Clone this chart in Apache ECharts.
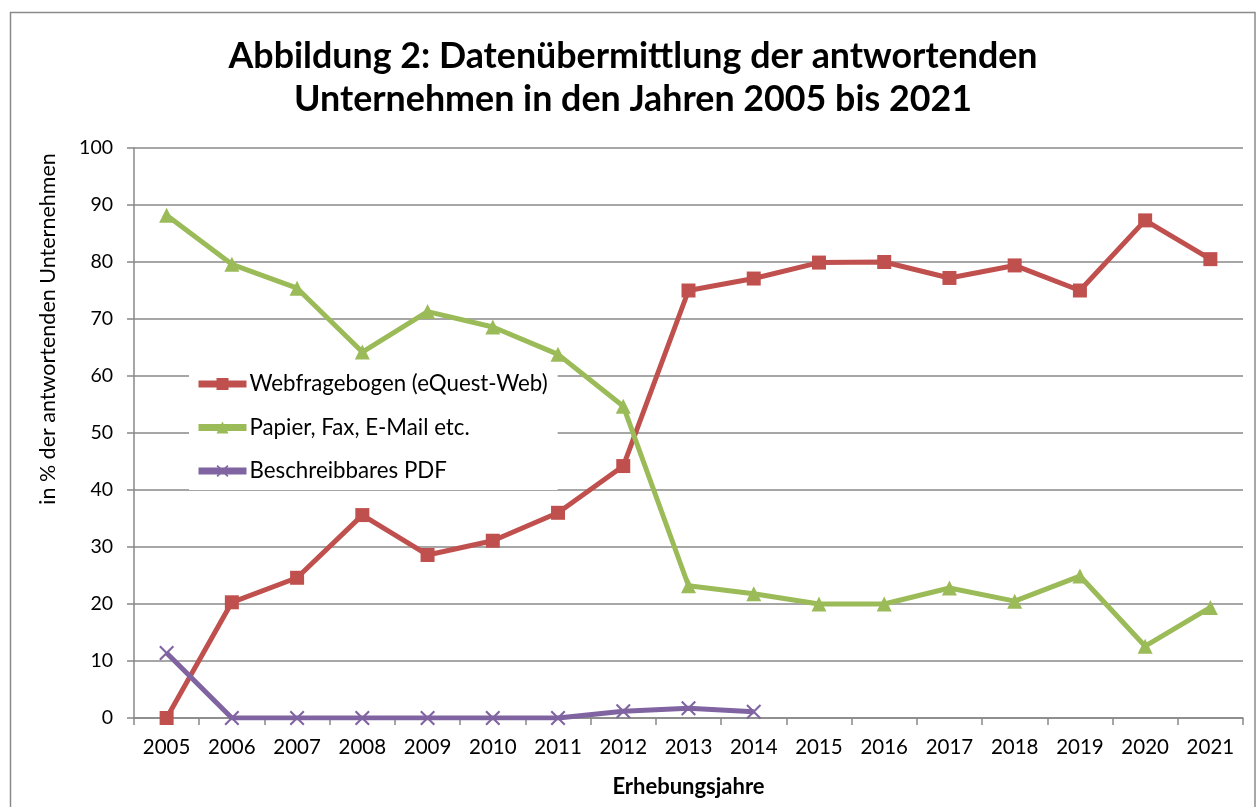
<!DOCTYPE html>
<html>
<head>
<meta charset="utf-8">
<script src="https://cdn.jsdelivr.net/npm/echarts@6/dist/echarts.min.js"></script>
<style>
html,body{margin:0;padding:0;background:#fff;}
#chart{width:1257px;height:807px;}
</style>
</head>
<body>
<div id="chart"></div>
<script>
const years = ['2005','2006','2007','2008','2009','2010','2011','2012','2013','2014','2015','2016','2017','2018','2019','2020','2021'];
const webValues = [0, 20.3, 24.6, 35.6, 28.6, 31.1, 36.0, 44.2, 75.0, 77.1, 79.9, 80.0, 77.2, 79.4, 75.0, 87.3, 80.5];
const paperValues = [88.2, 79.6, 75.4, 64.2, 71.3, 68.6, 63.8, 54.7, 23.2, 21.8, 20.0, 20.0, 22.8, 20.5, 24.9, 12.6, 19.4];
const pdfValues = [11.4, 0, 0, 0, 0, 0, 0, 1.2, 1.7, 1.1, null, null, null, null, null, null, null];
const seriesNames = ['Webfragebogen (eQuest-Web)', 'Papier, Fax, E-Mail etc.', 'Beschreibbares PDF'];
const titleText = 'Abbildung 2: Datenübermittlung der antwortenden\nUnternehmen in den Jahren 2005 bis 2021';
const xAxisName = 'Erhebungsjahre';
const yAxisName = 'in % der antwortenden Unternehmen';

const FONT = 'Lato';
const crossPath = 'path://M0,1 L1,0 L5,4 L9,0 L10,1 L6,5 L10,9 L9,10 L5,6 L1,10 L0,9 L4,5 Z';
const gridColor = '#888888';

const chart = echarts.init(document.getElementById('chart'), null, {renderer: 'canvas'});
chart.setOption({
  backgroundColor: '#ffffff',
  animation: false,
  textStyle: {fontFamily: FONT},
  title: {
    text: titleText,
    left: 628,
    textAlign: 'center',
    top: 30,
    textStyle: {fontFamily: FONT, fontSize: 35.8, fontWeight: 'bold', color: '#000', lineHeight: 43}
  },
  legend: {
    orient: 'vertical',
    left: 189,
    top: 369,
    itemWidth: 48,
    itemHeight: 15,
    itemGap: 21.5,
    padding: [4, 10, 8, 6],
    backgroundColor: '#ffffff',
    data: seriesNames,
    lineStyle: {width: 7},
    textStyle: {fontFamily: FONT, fontSize: 22.3, color: '#000', padding: [0, 0, 0, -2]}
  },
  grid: {left: 134, right: 14, top: 148, bottom: 89, containLabel: false},
  xAxis: {
    type: 'category',
    data: years,
    boundaryGap: true,
    name: xAxisName,
    nameLocation: 'middle',
    nameGap: 58,
    nameTextStyle: {fontFamily: FONT, fontSize: 22, fontWeight: 'bold', color: '#000'},
    axisLine: {lineStyle: {color: gridColor, width: 1.5}},
    axisTick: {show: true, length: 7, interval: 0, alignWithLabel: false, lineStyle: {color: gridColor, width: 1.5}},
    axisLabel: {fontFamily: FONT, fontSize: 20.5, color: '#000', margin: 19, interval: 0},
    splitLine: {show: false}
  },
  yAxis: {
    type: 'value',
    min: 0,
    max: 100,
    interval: 10,
    axisLine: {show: true, lineStyle: {color: gridColor, width: 1.5}},
    axisTick: {show: true, length: 7, lineStyle: {color: gridColor, width: 1.5}},
    axisLabel: {fontFamily: FONT, fontSize: 19.5, color: '#000', margin: 21},
    splitLine: {show: true, lineStyle: {color: gridColor, width: 1.5}}
  },
  graphic: [
    {
      type: 'rect',
      shape: {x: 10.5, y: 12.5, width: 1244.5, height: 820},
      style: {fill: 'none', stroke: '#8a8a8a', lineWidth: 1.5},
      silent: true, z: 0
    },
    {
      type: 'text',
      x: 48, y: 329,
      rotation: Math.PI / 2,
      style: {text: yAxisName, fontFamily: FONT, fontSize: 21.5, fill: '#000', textAlign: 'center', textVerticalAlign: 'middle'},
      silent: true
    }
  ],
  series: [
    {
      name: seriesNames[0], type: 'line', data: webValues,
      symbol: 'rect', symbolSize: 14,
      lineStyle: {color: '#C0504D', width: 5},
      itemStyle: {color: '#C0504D'}
    },
    {
      name: seriesNames[1], type: 'line', data: paperValues,
      symbol: 'triangle', symbolSize: 15,
      lineStyle: {color: '#9BBB59', width: 5},
      itemStyle: {color: '#9BBB59'}
    },
    {
      name: seriesNames[2], type: 'line', data: pdfValues,
      symbol: crossPath, symbolSize: 15,
      lineStyle: {color: '#8064A2', width: 5},
      itemStyle: {color: '#8064A2'}
    }
  ]
});
</script>
</body>
</html>
